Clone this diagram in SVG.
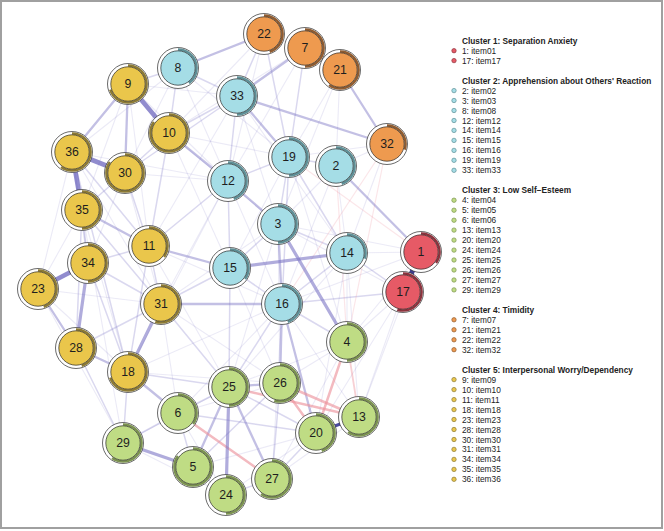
<svg xmlns="http://www.w3.org/2000/svg" width="664" height="531" viewBox="0 0 664 531">
<style>
.bg{fill:#fff}
.frame{fill:none;stroke:#a0a0a0;stroke-width:2}
line{stroke-linecap:round}
.e1{stroke:#7b74c4;stroke-opacity:.15;stroke-width:1.1}
.e2{stroke:#7b74c4;stroke-opacity:.28;stroke-width:1.5}
.e3{stroke:#7b74c4;stroke-opacity:.45;stroke-width:2.3}
.e4{stroke:#7b74c4;stroke-opacity:.6;stroke-width:3.2}
.e5{stroke:#6f68bf;stroke-opacity:.76;stroke-width:4.6}
.n1{stroke:#ec8f99;stroke-opacity:.22;stroke-width:1.2}
.n2{stroke:#ec8f99;stroke-opacity:.42;stroke-width:1.8}
.n3{stroke:#ec8f99;stroke-opacity:.62;stroke-width:2.5}
.outer{fill:#fff;stroke:#2a2a2a;stroke-width:.7}
.pie{fill:none;stroke-width:2.5}
.inner{stroke:#2a2a2a;stroke-width:.7}
.node text{font-family:"Liberation Sans",Arial,Helvetica,sans-serif;font-size:12.3px;fill:#1e1e1e;text-anchor:middle}
.c1 .inner{fill:#e65a66}.c1 .pie{stroke:#8c333d}
.c2 .inner{fill:#a5dde6}.c2 .pie{stroke:#5e8f96}
.c3 .inner{fill:#bfdc84}.c3 .pie{stroke:#7b9250}
.c4 .inner{fill:#ee9a4f}.c4 .pie{stroke:#8f5c31}
.c5 .inner{fill:#eac64b}.c5 .pie{stroke:#8c7a35}
.legend text{font-family:"Liberation Sans",Arial,Helvetica,sans-serif;font-size:8.3px;fill:#222}
.legend .title{font-weight:bold}
.b1{fill:#e65a66;stroke:#8c333d;stroke-width:.7}
.b2{fill:#a5dde6;stroke:#5e8f96;stroke-width:.7}
.b3{fill:#bfdc84;stroke:#7b9250;stroke-width:.7}
.b4{fill:#ee9a4f;stroke:#8f5c31;stroke-width:.7}
.b5{fill:#eac64b;stroke:#8c7a35;stroke-width:.7}
</style>
<rect class="bg" x="0" y="0" width="664" height="531"/>
<rect class="frame" x="1" y="1" width="661" height="527"/>
<g id="edges">
<line class="e1" x1="38" y1="289" x2="161" y2="304"/>
<line class="e1" x1="347" y1="253" x2="359" y2="417"/>
<line class="e1" x1="403" y1="292" x2="347" y2="342"/>
<line class="e1" x1="421" y1="252" x2="347" y2="253"/>
<line class="e1" x1="421" y1="252" x2="282" y2="304"/>
<line class="e1" x1="403" y1="292" x2="278" y2="224"/>
<line class="e1" x1="336" y1="166" x2="347" y2="253"/>
<line class="e1" x1="340" y1="70" x2="289" y2="157"/>
<line class="e1" x1="340" y1="70" x2="336" y2="166"/>
<line class="e1" x1="305" y1="48" x2="264" y2="34"/>
<line class="e1" x1="178" y1="68" x2="228" y2="181"/>
<line class="e1" x1="128" y1="84" x2="237" y2="96"/>
<line class="e1" x1="128" y1="84" x2="228" y2="181"/>
<line class="e1" x1="178" y1="68" x2="289" y2="157"/>
<line class="e1" x1="169" y1="133" x2="289" y2="157"/>
<line class="e1" x1="169" y1="133" x2="278" y2="224"/>
<line class="e1" x1="125" y1="173" x2="228" y2="181"/>
<line class="e1" x1="72" y1="152" x2="228" y2="181"/>
<line class="e1" x1="82" y1="210" x2="128" y2="372"/>
<line class="e1" x1="38" y1="289" x2="128" y2="372"/>
<line class="e1" x1="38" y1="289" x2="123" y2="443"/>
<line class="e1" x1="123" y1="443" x2="226" y2="495"/>
<line class="e1" x1="123" y1="443" x2="229" y2="387"/>
<line class="e1" x1="178" y1="413" x2="226" y2="495"/>
<line class="e1" x1="178" y1="413" x2="280" y2="383"/>
<line class="e1" x1="128" y1="372" x2="280" y2="383"/>
<line class="e1" x1="161" y1="304" x2="280" y2="383"/>
<line class="e1" x1="149" y1="246" x2="282" y2="304"/>
<line class="e1" x1="149" y1="246" x2="229" y2="387"/>
<line class="e1" x1="230" y1="268" x2="280" y2="383"/>
<line class="e1" x1="228" y1="181" x2="282" y2="304"/>
<line class="e1" x1="278" y1="224" x2="280" y2="383"/>
<line class="e1" x1="347" y1="342" x2="280" y2="383"/>
<line class="e1" x1="347" y1="342" x2="347" y2="253"/>
<line class="e1" x1="359" y1="417" x2="272" y2="479"/>
<line class="e1" x1="316" y1="433" x2="226" y2="495"/>
<line class="e1" x1="193" y1="467" x2="316" y2="433"/>
<line class="e1" x1="125" y1="173" x2="88" y2="263"/>
<line class="e1" x1="125" y1="173" x2="161" y2="304"/>
<line class="e1" x1="169" y1="133" x2="230" y2="268"/>
<line class="e1" x1="128" y1="84" x2="149" y2="246"/>
<line class="e1" x1="237" y1="96" x2="278" y2="224"/>
<line class="e1" x1="237" y1="96" x2="347" y2="253"/>
<line class="e1" x1="336" y1="166" x2="278" y2="224"/>
<line class="e1" x1="336" y1="166" x2="282" y2="304"/>
<line class="e1" x1="289" y1="157" x2="347" y2="342"/>
<line class="e1" x1="387" y1="144" x2="336" y2="166"/>
<line class="e1" x1="387" y1="144" x2="289" y2="157"/>
<line class="e1" x1="340" y1="70" x2="278" y2="224"/>
<line class="e1" x1="264" y1="34" x2="228" y2="181"/>
<line class="e1" x1="305" y1="48" x2="228" y2="181"/>
<line class="e1" x1="359" y1="417" x2="403" y2="292"/>
<line class="e1" x1="316" y1="433" x2="403" y2="292"/>
<line class="e1" x1="359" y1="417" x2="282" y2="304"/>
<line class="e1" x1="272" y1="479" x2="282" y2="304"/>
<line class="e1" x1="38" y1="289" x2="82" y2="210"/>
<line class="e1" x1="38" y1="289" x2="72" y2="152"/>
<line class="e1" x1="161" y1="304" x2="178" y2="413"/>
<line class="e1" x1="72" y1="152" x2="161" y2="304"/>
<line class="e1" x1="82" y1="210" x2="123" y2="443"/>
<line class="e1" x1="128" y1="84" x2="82" y2="210"/>
<line class="e1" x1="178" y1="68" x2="125" y2="173"/>
<line class="e1" x1="178" y1="68" x2="72" y2="152"/>
<line class="e1" x1="264" y1="34" x2="169" y2="133"/>
<line class="e1" x1="305" y1="48" x2="169" y2="133"/>
<line class="e1" x1="237" y1="96" x2="149" y2="246"/>
<line class="e1" x1="228" y1="181" x2="161" y2="304"/>
<line class="e1" x1="228" y1="181" x2="128" y2="372"/>
<line class="e1" x1="278" y1="224" x2="161" y2="304"/>
<line class="e1" x1="278" y1="224" x2="229" y2="387"/>
<line class="e1" x1="289" y1="157" x2="230" y2="268"/>
<line class="e1" x1="347" y1="253" x2="229" y2="387"/>
<line class="e1" x1="347" y1="253" x2="316" y2="433"/>
<line class="e1" x1="282" y1="304" x2="178" y2="413"/>
<line class="e1" x1="282" y1="304" x2="128" y2="372"/>
<line class="e1" x1="347" y1="342" x2="229" y2="387"/>
<line class="e1" x1="347" y1="342" x2="272" y2="479"/>
<line class="e1" x1="421" y1="252" x2="359" y2="417"/>
<line class="e1" x1="421" y1="252" x2="347" y2="342"/>
<line class="e1" x1="421" y1="252" x2="278" y2="224"/>
<line class="e1" x1="387" y1="144" x2="347" y2="253"/>
<line class="e2" x1="72" y1="152" x2="149" y2="246"/>
<line class="e2" x1="72" y1="152" x2="128" y2="372"/>
<line class="e2" x1="264" y1="34" x2="289" y2="157"/>
<line class="e2" x1="289" y1="157" x2="282" y2="304"/>
<line class="e2" x1="282" y1="304" x2="347" y2="253"/>
<line class="e2" x1="347" y1="253" x2="403" y2="292"/>
<line class="e2" x1="280" y1="383" x2="272" y2="479"/>
<line class="e2" x1="193" y1="467" x2="226" y2="495"/>
<line class="e2" x1="226" y1="495" x2="272" y2="479"/>
<line class="e2" x1="178" y1="413" x2="123" y2="443"/>
<line class="e2" x1="149" y1="246" x2="161" y2="304"/>
<line class="e2" x1="125" y1="173" x2="169" y2="133"/>
<line class="e2" x1="128" y1="84" x2="178" y2="68"/>
<line class="e2" x1="169" y1="133" x2="237" y2="96"/>
<line class="e2" x1="125" y1="173" x2="237" y2="96"/>
<line class="e2" x1="82" y1="210" x2="88" y2="263"/>
<line class="e2" x1="237" y1="96" x2="228" y2="181"/>
<line class="e2" x1="289" y1="157" x2="336" y2="166"/>
<line class="e2" x1="278" y1="224" x2="289" y2="157"/>
<line class="e2" x1="347" y1="342" x2="282" y2="304"/>
<line class="e2" x1="229" y1="387" x2="316" y2="433"/>
<line class="e2" x1="178" y1="413" x2="316" y2="433"/>
<line class="e2" x1="229" y1="387" x2="178" y2="413"/>
<line class="e2" x1="193" y1="467" x2="280" y2="383"/>
<line class="e2" x1="128" y1="372" x2="229" y2="387"/>
<line class="e2" x1="161" y1="304" x2="229" y2="387"/>
<line class="e2" x1="228" y1="181" x2="230" y2="268"/>
<line class="e2" x1="278" y1="224" x2="230" y2="268"/>
<line class="e2" x1="282" y1="304" x2="230" y2="268"/>
<line class="e2" x1="289" y1="157" x2="347" y2="253"/>
<line class="e2" x1="228" y1="181" x2="289" y2="157"/>
<line class="e2" x1="149" y1="246" x2="228" y2="181"/>
<line class="e2" x1="125" y1="173" x2="149" y2="246"/>
<line class="e2" x1="82" y1="210" x2="161" y2="304"/>
<line class="e2" x1="88" y1="263" x2="161" y2="304"/>
<line class="e2" x1="272" y1="479" x2="316" y2="433"/>
<line class="e2" x1="403" y1="292" x2="282" y2="304"/>
<line class="e2" x1="305" y1="48" x2="289" y2="157"/>
<line class="e2" x1="264" y1="34" x2="237" y2="96"/>
<line class="e2" x1="178" y1="68" x2="237" y2="96"/>
<line class="e2" x1="178" y1="68" x2="169" y2="133"/>
<line class="e2" x1="72" y1="152" x2="88" y2="263"/>
<line class="e2" x1="82" y1="210" x2="76" y2="348"/>
<line class="e2" x1="76" y1="348" x2="161" y2="304"/>
<line class="e2" x1="128" y1="372" x2="123" y2="443"/>
<line class="e2" x1="178" y1="413" x2="193" y2="467"/>
<line class="e2" x1="161" y1="304" x2="230" y2="268"/>
<line class="e2" x1="230" y1="268" x2="229" y2="387"/>
<line class="e2" x1="282" y1="304" x2="229" y2="387"/>
<line class="e2" x1="278" y1="224" x2="347" y2="253"/>
<line class="e2" x1="125" y1="173" x2="82" y2="210"/>
<line class="e2" x1="169" y1="133" x2="149" y2="246"/>
<line class="e2" x1="88" y1="263" x2="149" y2="246"/>
<line class="e2" x1="149" y1="246" x2="128" y2="372"/>
<line class="e2" x1="88" y1="263" x2="128" y2="372"/>
<line class="e2" x1="76" y1="348" x2="123" y2="443"/>
<line class="n1" x1="387" y1="144" x2="282" y2="304"/>
<line class="n1" x1="421" y1="252" x2="289" y2="157"/>
<line class="n1" x1="387" y1="144" x2="347" y2="342"/>
<line class="n1" x1="336" y1="166" x2="347" y2="342"/>
<line class="n2" x1="347" y1="342" x2="359" y2="417"/>
<line class="e3" x1="128" y1="84" x2="72" y2="152"/>
<line class="e3" x1="128" y1="84" x2="125" y2="173"/>
<line class="e3" x1="38" y1="289" x2="76" y2="348"/>
<line class="e3" x1="82" y1="210" x2="149" y2="246"/>
<line class="e3" x1="149" y1="246" x2="230" y2="268"/>
<line class="e3" x1="169" y1="133" x2="228" y2="181"/>
<line class="e3" x1="228" y1="181" x2="278" y2="224"/>
<line class="e3" x1="237" y1="96" x2="289" y2="157"/>
<line class="e3" x1="305" y1="48" x2="237" y2="96"/>
<line class="e3" x1="178" y1="68" x2="264" y2="34"/>
<line class="e3" x1="237" y1="96" x2="387" y2="144"/>
<line class="e3" x1="340" y1="70" x2="387" y2="144"/>
<line class="e3" x1="336" y1="166" x2="421" y2="252"/>
<line class="e3" x1="278" y1="224" x2="282" y2="304"/>
<line class="e3" x1="161" y1="304" x2="282" y2="304"/>
<line class="e3" x1="282" y1="304" x2="280" y2="383"/>
<line class="e3" x1="282" y1="304" x2="316" y2="433"/>
<line class="e3" x1="128" y1="372" x2="178" y2="413"/>
<line class="e3" x1="229" y1="387" x2="193" y2="467"/>
<line class="e3" x1="229" y1="387" x2="280" y2="383"/>
<line class="e3" x1="229" y1="387" x2="272" y2="479"/>
<line class="e3" x1="76" y1="348" x2="128" y2="372"/>
<line class="n3" x1="347" y1="342" x2="316" y2="433"/>
<line class="n3" x1="280" y1="383" x2="359" y2="417"/>
<line class="n3" x1="280" y1="383" x2="316" y2="433"/>
<line class="n3" x1="229" y1="387" x2="359" y2="417"/>
<line class="n3" x1="178" y1="413" x2="272" y2="479"/>
<line class="e4" x1="230" y1="268" x2="347" y2="253"/>
<line class="e4" x1="229" y1="387" x2="226" y2="495"/>
<line class="e4" x1="123" y1="443" x2="193" y2="467"/>
<line class="e4" x1="88" y1="263" x2="76" y2="348"/>
<line class="e4" x1="161" y1="304" x2="128" y2="372"/>
<line class="e4" x1="278" y1="224" x2="347" y2="342"/>
<line class="e5" x1="128" y1="84" x2="169" y2="133"/>
<line class="e5" x1="72" y1="152" x2="125" y2="173"/>
<line class="e5" x1="72" y1="152" x2="82" y2="210"/>
<line class="e5" x1="88" y1="263" x2="38" y2="289"/>
<line x1="421" y1="252" x2="403" y2="292" stroke="#3d3c8e" stroke-width="5"/>
<line x1="316" y1="433" x2="359" y2="417" stroke="#4b4aa0" stroke-width="3"/>
</g>
<g id="n1" class="node c1" transform="translate(421 252)"><circle class="outer" r="20.5"/><circle class="pie" r="18.6" pathLength="100" stroke-dasharray="35 100" transform="rotate(-90)"/><circle class="inner" r="17.2"/><text y="4.3">1</text></g>
<g id="n17" class="node c1" transform="translate(403 292)"><circle class="outer" r="20.5"/><circle class="pie" r="18.6" pathLength="100" stroke-dasharray="55 100" transform="rotate(-90)"/><circle class="inner" r="17.2"/><text y="4.3">17</text></g>
<g id="n2" class="node c2" transform="translate(336 166)"><circle class="outer" r="20.5"/><circle class="pie" r="18.6" pathLength="100" stroke-dasharray="45 100" transform="rotate(-90)"/><circle class="inner" r="17.2"/><text y="4.3">2</text></g>
<g id="n3" class="node c2" transform="translate(278 224)"><circle class="outer" r="20.5"/><circle class="pie" r="18.6" pathLength="100" stroke-dasharray="50 100" transform="rotate(-90)"/><circle class="inner" r="17.2"/><text y="4.3">3</text></g>
<g id="n8" class="node c2" transform="translate(178 68)"><circle class="outer" r="20.5"/><circle class="pie" r="18.6" pathLength="100" stroke-dasharray="40 100" transform="rotate(-90)"/><circle class="inner" r="17.2"/><text y="4.3">8</text></g>
<g id="n12" class="node c2" transform="translate(228 181)"><circle class="outer" r="20.5"/><circle class="pie" r="18.6" pathLength="100" stroke-dasharray="45 100" transform="rotate(-90)"/><circle class="inner" r="17.2"/><text y="4.3">12</text></g>
<g id="n14" class="node c2" transform="translate(347 253)"><circle class="outer" r="20.5"/><circle class="pie" r="18.6" pathLength="100" stroke-dasharray="30 100" transform="rotate(-90)"/><circle class="inner" r="17.2"/><text y="4.3">14</text></g>
<g id="n15" class="node c2" transform="translate(230 268)"><circle class="outer" r="20.5"/><circle class="pie" r="18.6" pathLength="100" stroke-dasharray="35 100" transform="rotate(-90)"/><circle class="inner" r="17.2"/><text y="4.3">15</text></g>
<g id="n16" class="node c2" transform="translate(282 304)"><circle class="outer" r="20.5"/><circle class="pie" r="18.6" pathLength="100" stroke-dasharray="45 100" transform="rotate(-90)"/><circle class="inner" r="17.2"/><text y="4.3">16</text></g>
<g id="n19" class="node c2" transform="translate(289 157)"><circle class="outer" r="20.5"/><circle class="pie" r="18.6" pathLength="100" stroke-dasharray="50 100" transform="rotate(-90)"/><circle class="inner" r="17.2"/><text y="4.3">19</text></g>
<g id="n33" class="node c2" transform="translate(237 96)"><circle class="outer" r="20.5"/><circle class="pie" r="18.6" pathLength="100" stroke-dasharray="50 100" transform="rotate(-90)"/><circle class="inner" r="17.2"/><text y="4.3">33</text></g>
<g id="n4" class="node c3" transform="translate(347 342)"><circle class="outer" r="20.5"/><circle class="pie" r="18.6" pathLength="100" stroke-dasharray="50 100" transform="rotate(-90)"/><circle class="inner" r="17.2"/><text y="4.3">4</text></g>
<g id="n5" class="node c3" transform="translate(193 467)"><circle class="outer" r="20.5"/><circle class="pie" r="18.6" pathLength="100" stroke-dasharray="85 100" transform="rotate(-90)"/><circle class="inner" r="17.2"/><text y="4.3">5</text></g>
<g id="n6" class="node c3" transform="translate(178 413)"><circle class="outer" r="20.5"/><circle class="pie" r="18.6" pathLength="100" stroke-dasharray="35 100" transform="rotate(-90)"/><circle class="inner" r="17.2"/><text y="4.3">6</text></g>
<g id="n13" class="node c3" transform="translate(359 417)"><circle class="outer" r="20.5"/><circle class="pie" r="18.6" pathLength="100" stroke-dasharray="60 100" transform="rotate(-90)"/><circle class="inner" r="17.2"/><text y="4.3">13</text></g>
<g id="n20" class="node c3" transform="translate(316 433)"><circle class="outer" r="20.5"/><circle class="pie" r="18.6" pathLength="100" stroke-dasharray="45 100" transform="rotate(-90)"/><circle class="inner" r="17.2"/><text y="4.3">20</text></g>
<g id="n24" class="node c3" transform="translate(226 495)"><circle class="outer" r="20.5"/><circle class="pie" r="18.6" pathLength="100" stroke-dasharray="50 100" transform="rotate(-90)"/><circle class="inner" r="17.2"/><text y="4.3">24</text></g>
<g id="n25" class="node c3" transform="translate(229 387)"><circle class="outer" r="20.5"/><circle class="pie" r="18.6" pathLength="100" stroke-dasharray="50 100" transform="rotate(-90)"/><circle class="inner" r="17.2"/><text y="4.3">25</text></g>
<g id="n26" class="node c3" transform="translate(280 383)"><circle class="outer" r="20.5"/><circle class="pie" r="18.6" pathLength="100" stroke-dasharray="55 100" transform="rotate(-90)"/><circle class="inner" r="17.2"/><text y="4.3">26</text></g>
<g id="n27" class="node c3" transform="translate(272 479)"><circle class="outer" r="20.5"/><circle class="pie" r="18.6" pathLength="100" stroke-dasharray="60 100" transform="rotate(-90)"/><circle class="inner" r="17.2"/><text y="4.3">27</text></g>
<g id="n29" class="node c3" transform="translate(123 443)"><circle class="outer" r="20.5"/><circle class="pie" r="18.6" pathLength="100" stroke-dasharray="60 100" transform="rotate(-90)"/><circle class="inner" r="17.2"/><text y="4.3">29</text></g>
<g id="n7" class="node c4" transform="translate(305 48)"><circle class="outer" r="20.5"/><circle class="pie" r="18.6" pathLength="100" stroke-dasharray="50 100" transform="rotate(-90)"/><circle class="inner" r="17.2"/><text y="4.3">7</text></g>
<g id="n21" class="node c4" transform="translate(340 70)"><circle class="outer" r="20.5"/><circle class="pie" r="18.6" pathLength="100" stroke-dasharray="60 100" transform="rotate(-90)"/><circle class="inner" r="17.2"/><text y="4.3">21</text></g>
<g id="n22" class="node c4" transform="translate(264 34)"><circle class="outer" r="20.5"/><circle class="pie" r="18.6" pathLength="100" stroke-dasharray="45 100" transform="rotate(-90)"/><circle class="inner" r="17.2"/><text y="4.3">22</text></g>
<g id="n32" class="node c4" transform="translate(387 144)"><circle class="outer" r="20.5"/><circle class="pie" r="18.6" pathLength="100" stroke-dasharray="30 100" transform="rotate(-90)"/><circle class="inner" r="17.2"/><text y="4.3">32</text></g>
<g id="n9" class="node c5" transform="translate(128 84)"><circle class="outer" r="20.5"/><circle class="pie" r="18.6" pathLength="100" stroke-dasharray="70 100" transform="rotate(-90)"/><circle class="inner" r="17.2"/><text y="4.3">9</text></g>
<g id="n10" class="node c5" transform="translate(169 133)"><circle class="outer" r="20.5"/><circle class="pie" r="18.6" pathLength="100" stroke-dasharray="85 100" transform="rotate(-90)"/><circle class="inner" r="17.2"/><text y="4.3">10</text></g>
<g id="n11" class="node c5" transform="translate(149 246)"><circle class="outer" r="20.5"/><circle class="pie" r="18.6" pathLength="100" stroke-dasharray="35 100" transform="rotate(-90)"/><circle class="inner" r="17.2"/><text y="4.3">11</text></g>
<g id="n18" class="node c5" transform="translate(128 372)"><circle class="outer" r="20.5"/><circle class="pie" r="18.6" pathLength="100" stroke-dasharray="70 100" transform="rotate(-90)"/><circle class="inner" r="17.2"/><text y="4.3">18</text></g>
<g id="n23" class="node c5" transform="translate(38 289)"><circle class="outer" r="20.5"/><circle class="pie" r="18.6" pathLength="100" stroke-dasharray="45 100" transform="rotate(-90)"/><circle class="inner" r="17.2"/><text y="4.3">23</text></g>
<g id="n28" class="node c5" transform="translate(76 348)"><circle class="outer" r="20.5"/><circle class="pie" r="18.6" pathLength="100" stroke-dasharray="45 100" transform="rotate(-90)"/><circle class="inner" r="17.2"/><text y="4.3">28</text></g>
<g id="n30" class="node c5" transform="translate(125 173)"><circle class="outer" r="20.5"/><circle class="pie" r="18.6" pathLength="100" stroke-dasharray="85 100" transform="rotate(-90)"/><circle class="inner" r="17.2"/><text y="4.3">30</text></g>
<g id="n31" class="node c5" transform="translate(161 304)"><circle class="outer" r="20.5"/><circle class="pie" r="18.6" pathLength="100" stroke-dasharray="55 100" transform="rotate(-90)"/><circle class="inner" r="17.2"/><text y="4.3">31</text></g>
<g id="n34" class="node c5" transform="translate(88 263)"><circle class="outer" r="20.5"/><circle class="pie" r="18.6" pathLength="100" stroke-dasharray="50 100" transform="rotate(-90)"/><circle class="inner" r="17.2"/><text y="4.3">34</text></g>
<g id="n35" class="node c5" transform="translate(82 210)"><circle class="outer" r="20.5"/><circle class="pie" r="18.6" pathLength="100" stroke-dasharray="50 100" transform="rotate(-90)"/><circle class="inner" r="17.2"/><text y="4.3">35</text></g>
<g id="n36" class="node c5" transform="translate(72 152)"><circle class="outer" r="20.5"/><circle class="pie" r="18.6" pathLength="100" stroke-dasharray="60 100" transform="rotate(-90)"/><circle class="inner" r="17.2"/><text y="4.3">36</text></g>
<g id="legend" class="legend">
<text class="title" x="462" y="43.7">Cluster 1: Separation Anxiety</text>
<circle class="b1" cx="454" cy="50.7" r="2.2"/><text x="462" y="53.7">1: item01</text>
<circle class="b1" cx="454" cy="60.6" r="2.2"/><text x="462" y="63.6">17: item17</text>
<text class="title" x="462" y="83.6">Cluster 2: Apprehension about Others' Reaction</text>
<circle class="b2" cx="454" cy="90.6" r="2.2"/><text x="462" y="93.6">2: item02</text>
<circle class="b2" cx="454" cy="100.5" r="2.2"/><text x="462" y="103.5">3: item03</text>
<circle class="b2" cx="454" cy="110.5" r="2.2"/><text x="462" y="113.5">8: item08</text>
<circle class="b2" cx="454" cy="120.5" r="2.2"/><text x="462" y="123.5">12: item12</text>
<circle class="b2" cx="454" cy="130.4" r="2.2"/><text x="462" y="133.4">14: item14</text>
<circle class="b2" cx="454" cy="140.4" r="2.2"/><text x="462" y="143.4">15: item15</text>
<circle class="b2" cx="454" cy="150.4" r="2.2"/><text x="462" y="153.4">16: item16</text>
<circle class="b2" cx="454" cy="160.3" r="2.2"/><text x="462" y="163.3">19: item19</text>
<circle class="b2" cx="454" cy="170.3" r="2.2"/><text x="462" y="173.3">33: item33</text>
<text class="title" x="462" y="193.3">Cluster 3: Low Self−Esteem</text>
<circle class="b3" cx="454" cy="200.2" r="2.2"/><text x="462" y="203.2">4: item04</text>
<circle class="b3" cx="454" cy="210.2" r="2.2"/><text x="462" y="213.2">5: item05</text>
<circle class="b3" cx="454" cy="220.2" r="2.2"/><text x="462" y="223.2">6: item06</text>
<circle class="b3" cx="454" cy="230.1" r="2.2"/><text x="462" y="233.1">13: item13</text>
<circle class="b3" cx="454" cy="240.1" r="2.2"/><text x="462" y="243.1">20: item20</text>
<circle class="b3" cx="454" cy="250.1" r="2.2"/><text x="462" y="253.1">24: item24</text>
<circle class="b3" cx="454" cy="260" r="2.2"/><text x="462" y="263">25: item25</text>
<circle class="b3" cx="454" cy="270" r="2.2"/><text x="462" y="273">26: item26</text>
<circle class="b3" cx="454" cy="280" r="2.2"/><text x="462" y="283">27: item27</text>
<circle class="b3" cx="454" cy="289.9" r="2.2"/><text x="462" y="292.9">29: item29</text>
<text class="title" x="462" y="312.9">Cluster 4: Timidity</text>
<circle class="b4" cx="454" cy="319.8" r="2.2"/><text x="462" y="322.8">7: item07</text>
<circle class="b4" cx="454" cy="329.8" r="2.2"/><text x="462" y="332.8">21: item21</text>
<circle class="b4" cx="454" cy="339.8" r="2.2"/><text x="462" y="342.8">22: item22</text>
<circle class="b4" cx="454" cy="349.7" r="2.2"/><text x="462" y="352.7">32: item32</text>
<text class="title" x="462" y="372.7">Cluster 5: Interpersonal Worry/Dependency</text>
<circle class="b5" cx="454" cy="379.6" r="2.2"/><text x="462" y="382.6">9: item09</text>
<circle class="b5" cx="454" cy="389.6" r="2.2"/><text x="462" y="392.6">10: item10</text>
<circle class="b5" cx="454" cy="399.6" r="2.2"/><text x="462" y="402.6">11: item11</text>
<circle class="b5" cx="454" cy="409.6" r="2.2"/><text x="462" y="412.6">18: item18</text>
<circle class="b5" cx="454" cy="419.5" r="2.2"/><text x="462" y="422.5">23: item23</text>
<circle class="b5" cx="454" cy="429.5" r="2.2"/><text x="462" y="432.5">28: item28</text>
<circle class="b5" cx="454" cy="439.5" r="2.2"/><text x="462" y="442.5">30: item30</text>
<circle class="b5" cx="454" cy="449.4" r="2.2"/><text x="462" y="452.4">31: item31</text>
<circle class="b5" cx="454" cy="459.4" r="2.2"/><text x="462" y="462.4">34: item34</text>
<circle class="b5" cx="454" cy="469.4" r="2.2"/><text x="462" y="472.4">35: item35</text>
<circle class="b5" cx="454" cy="479.3" r="2.2"/><text x="462" y="482.3">36: item36</text>
</g>
</svg>
